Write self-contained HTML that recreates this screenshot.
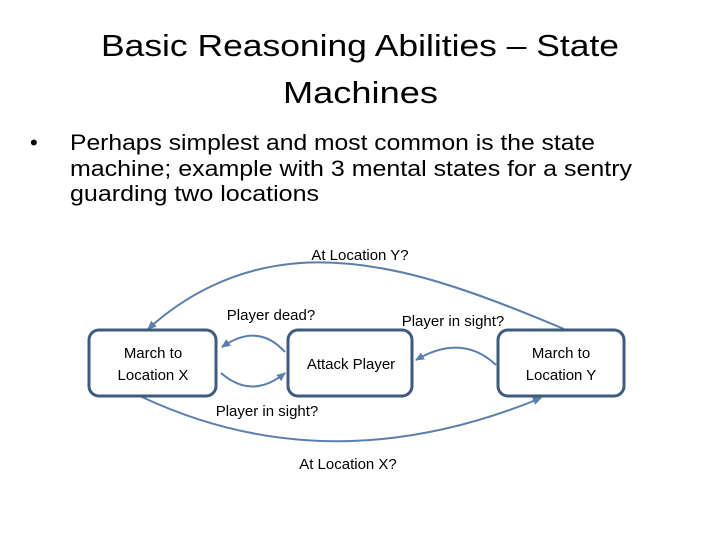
<!DOCTYPE html>
<html><head><meta charset="utf-8"><style>
html,body{margin:0;padding:0;background:#fff;}
svg{display:block;}
text{font-family:"Liberation Sans",sans-serif;fill:#000;}
</style></head><body>
<svg width="720" height="540" viewBox="0 0 720 540" xmlns="http://www.w3.org/2000/svg">
<defs>
<marker id="a" markerWidth="10" markerHeight="10" refX="8" refY="5" orient="auto" markerUnits="userSpaceOnUse">
<path d="M0,1 L9,5 L0,9 Z" fill="#5a7fae"/>
</marker>
</defs>
<text x="101" y="56" font-size="31" textLength="518" lengthAdjust="spacingAndGlyphs">Basic Reasoning Abilities – State</text>
<text x="283" y="103" font-size="31" textLength="155" lengthAdjust="spacingAndGlyphs">Machines</text>
<text x="30" y="150" font-size="22">•</text>
<text x="70" y="150" font-size="22" textLength="525" lengthAdjust="spacingAndGlyphs">Perhaps simplest and most common is the state</text>
<text x="70" y="176" font-size="22" textLength="562" lengthAdjust="spacingAndGlyphs">machine; example with 3 mental states for a sentry</text>
<text x="70" y="201" font-size="22" textLength="249" lengthAdjust="spacingAndGlyphs">guarding two locations</text>

<g fill="none" stroke="#5a7fae" stroke-width="2">
<path d="M564,329 C460,285 380,258 300,263 C230,268 180,300 148,329" marker-end="url(#a)"/>
<path d="M142,397 Q330,485 541,398" marker-end="url(#a)"/>
<path d="M285,352 Q258,322 222,347" marker-end="url(#a)"/>
<path d="M221,373 Q252,400 285,373" marker-end="url(#a)"/>
<path d="M496,365 Q462,333 416,360" marker-end="url(#a)"/>
</g>
<g fill="#fff" stroke="#3e5a7c" stroke-width="3">
<rect x="89" y="330" width="127" height="66" rx="10"/>
<rect x="288" y="330" width="124" height="66" rx="10"/>
<rect x="498" y="330" width="126" height="66" rx="10"/>
</g>
<g font-size="15" text-anchor="middle">
<text x="153" y="358">March to</text>
<text x="153" y="380">Location X</text>
<text x="351" y="369">Attack Player</text>
<text x="561" y="358">March to</text>
<text x="561" y="380">Location Y</text>
<text x="360" y="260">At Location Y?</text>
<text x="271" y="320">Player dead?</text>
<text x="453" y="326">Player in sight?</text>
<text x="267" y="416">Player in sight?</text>
<text x="348" y="469">At Location X?</text>
</g>
</svg>
</body></html>
